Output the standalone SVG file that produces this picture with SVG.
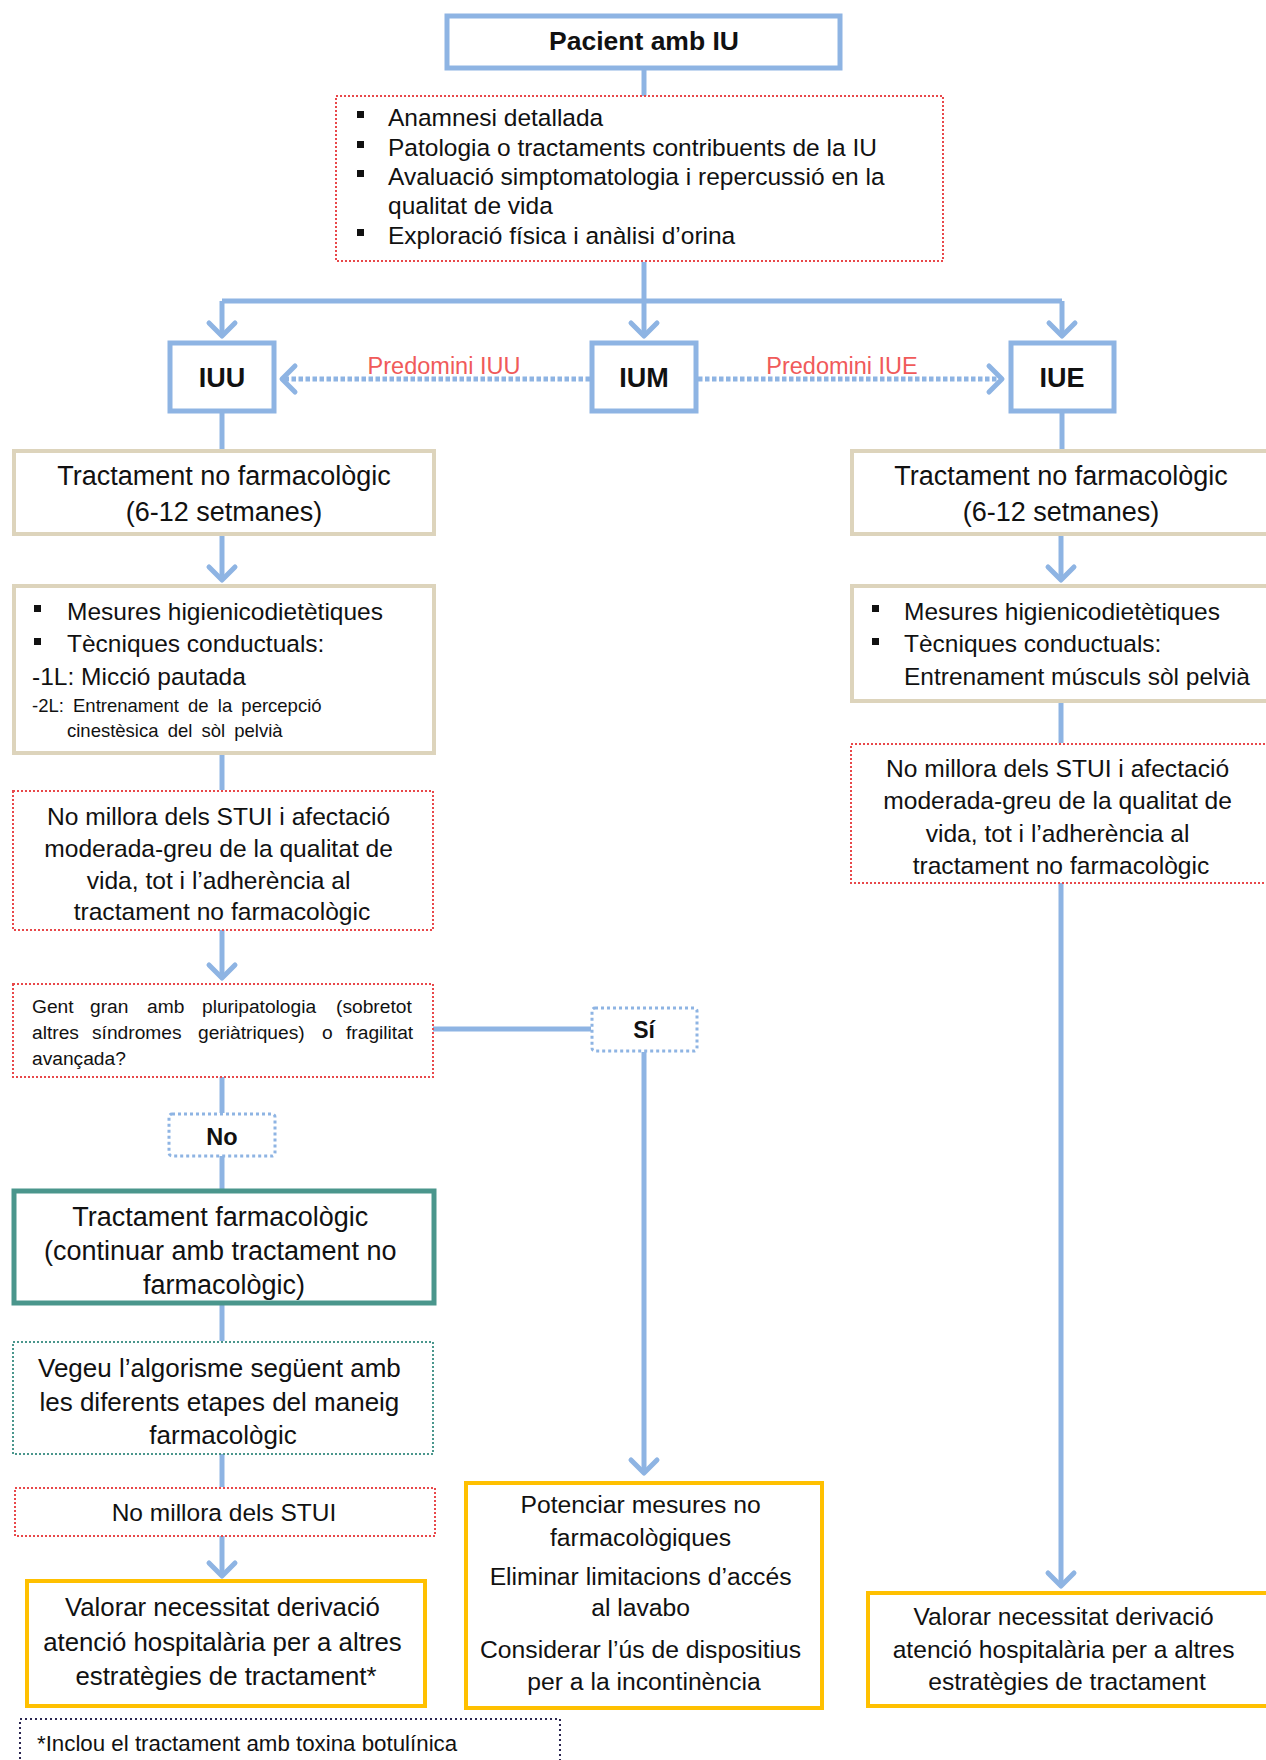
<svg xmlns="http://www.w3.org/2000/svg" width="1266" height="1760" viewBox="0 0 1266 1760">
<style>
text{font-family:"Liberation Sans",Arial,sans-serif;fill:#111}
.b{font-weight:bold}
.c{text-anchor:middle}
.blue{fill:#fff;stroke:#8EB4E3;stroke-width:5}
.beige{fill:#fff;stroke:#DDD4BC;stroke-width:4}
.reddot{fill:#fff;stroke:#E8484A;stroke-width:2;stroke-dasharray:2 2}
.teal{fill:#fff;stroke:#4A968C;stroke-width:5}
.tealdot{fill:#fff;stroke:#4A968C;stroke-width:2;stroke-dasharray:2 2}
.bluedot{fill:#fff;stroke:#8EB4E3;stroke-width:3;stroke-dasharray:3 3}
.yellow{fill:#fff;stroke:#FFC000;stroke-width:4}
.navydot{fill:#fff;stroke:#2A2550;stroke-width:2;stroke-dasharray:2 3}
.con{fill:none;stroke:#8EB4E3;stroke-width:5}
.dcon{fill:none;stroke:#8EB4E3;stroke-width:5;stroke-dasharray:4.5 2.5}
.red{fill:#F05A5A}
.bul{fill:#111}
</style>
<defs>
<marker id="ah" markerUnits="userSpaceOnUse" viewBox="-18 -18 24 36" markerWidth="24" markerHeight="36" refX="0" refY="0" orient="auto">
<path d="M-13,-13 L0,0 L-13,13" fill="none" stroke="#8EB4E3" stroke-width="5" stroke-linecap="round" stroke-linejoin="round"/>
</marker>
</defs>
<rect width="1266" height="1760" fill="#fff"/>

<g id="connectors">
<path class="con" d="M644,69 V96"/>
<path class="con" d="M222,301 H1062"/>
<path class="con" d="M644,262 V336" marker-end="url(#ah)"/>
<path class="con" d="M222,301 V336" marker-end="url(#ah)"/>
<path class="con" d="M1062,301 V336" marker-end="url(#ah)"/>
<path class="dcon" d="M590,379 H282" marker-end="url(#ah)"/>
<path class="dcon" d="M698,379 H1002" marker-end="url(#ah)"/>
<path class="con" d="M222,413 V450"/>
<path class="con" d="M1062,413 V450"/>
<path class="con" d="M222,535 V580" marker-end="url(#ah)"/>
<path class="con" d="M1061,535 V580" marker-end="url(#ah)"/>
<path class="con" d="M222,754 V790"/>
<path class="con" d="M1061,701 V743"/>
<path class="con" d="M222,930 V978" marker-end="url(#ah)"/>
<path class="con" d="M433,1029 H591"/>
<path class="con" d="M644,1052 V1473" marker-end="url(#ah)"/>
<path class="con" d="M222,1077 V1113"/>
<path class="con" d="M222,1156 V1190"/>
<path class="con" d="M222,1304 V1341"/>
<path class="con" d="M222,1454 V1487"/>
<path class="con" d="M222,1536 V1576" marker-end="url(#ah)"/>
<path class="con" d="M1061,883 V1586" marker-end="url(#ah)"/>
</g>

<g id="n-pacient">
<rect class="blue" x="447" y="16" width="393" height="52"/>
<text class="b c" x="644" y="50" font-size="26.5">Pacient amb IU</text>
</g>

<g id="n-avaluacio">
<rect class="reddot" x="336" y="96" width="607" height="165"/>
<rect class="bul" x="357" y="111" width="7" height="7"/>
<rect class="bul" x="357" y="141" width="7" height="7"/>
<rect class="bul" x="357" y="170" width="7" height="7"/>
<rect class="bul" x="357" y="229" width="7" height="7"/>
<text x="388" font-size="24.5">
<tspan x="388" y="126">Anamnesi detallada</tspan>
<tspan x="388" y="156">Patologia o tractaments contribuents de la IU</tspan>
<tspan x="388" y="185">Avaluació simptomatologia i repercussió en la</tspan>
<tspan x="388" y="214">qualitat de vida</tspan>
<tspan x="388" y="244">Exploració física i anàlisi d’orina</tspan>
</text>
</g>

<g id="n-iuu">
<rect class="blue" x="170" y="343" width="104" height="68"/>
<text class="b c" x="222" y="387" font-size="27">IUU</text>
</g>
<g id="n-ium">
<rect class="blue" x="592" y="343" width="104" height="68"/>
<text class="b c" x="644" y="387" font-size="27">IUM</text>
</g>
<g id="n-iue">
<rect class="blue" x="1011" y="343" width="103" height="68"/>
<text class="b c" x="1062" y="387" font-size="27">IUE</text>
</g>
<text class="red c" x="444" y="374" font-size="23.5">Predomini IUU</text>
<text class="red c" x="842" y="374" font-size="23.5">Predomini IUE</text>

<g id="n-tnf-l">
<rect class="beige" x="14" y="451" width="420" height="83"/>
<text class="c" x="224" y="485" font-size="27">Tractament no farmacològic</text>
<text class="c" x="224" y="521" font-size="27">(6-12 setmanes)</text>
</g>
<g id="n-tnf-r">
<rect class="beige" x="852" y="451" width="420" height="83"/>
<text class="c" x="1061" y="485" font-size="27">Tractament no farmacològic</text>
<text class="c" x="1061" y="521" font-size="27">(6-12 setmanes)</text>
</g>

<g id="n-mesures-l">
<rect class="beige" x="14" y="586" width="420" height="167" stroke-width="3"/>
<rect class="bul" x="34" y="605" width="7" height="7"/>
<rect class="bul" x="34" y="638" width="7" height="7"/>
<text x="67" y="620" font-size="24.5">Mesures higienicodietètiques</text>
<text x="67" y="652" font-size="24.5">Tècniques conductuals:</text>
<text x="32" y="685" font-size="24.5">-1L: Micció pautada</text>
<text x="32" y="712" font-size="18.5" word-spacing="4">-2L: Entrenament de la percepció</text>
<text x="67" y="737" font-size="18.5" word-spacing="4">cinestèsica del sòl pelvià</text>
</g>
<g id="n-mesures-r">
<rect class="beige" x="852" y="586" width="420" height="115" stroke-width="3"/>
<rect class="bul" x="872" y="605" width="7" height="7"/>
<rect class="bul" x="872" y="638" width="7" height="7"/>
<text x="904" y="620" font-size="24.5">Mesures higienicodietètiques</text>
<text x="904" y="652" font-size="24.5">Tècniques conductuals:</text>
<text x="904" y="685" font-size="24.5">Entrenament músculs sòl pelvià</text>
</g>

<g id="n-nomillora-l">
<rect class="reddot" x="13" y="791" width="420" height="139"/>
<text class="c" x="222" font-size="24.6">
<tspan x="222" y="825">No millora dels STUI i afectació</tspan>
<tspan x="222" y="857">moderada-greu de la qualitat de</tspan>
<tspan x="222" y="889">vida, tot i l’adherència al</tspan>
<tspan x="222" y="920">tractament no farmacològic</tspan>
</text>
</g>
<g id="n-nomillora-r">
<rect class="reddot" x="851" y="744" width="421" height="139"/>
<text class="c" x="1061" font-size="24.6">
<tspan x="1061" y="777">No millora dels STUI i afectació</tspan>
<tspan x="1061" y="809">moderada-greu de la qualitat de</tspan>
<tspan x="1061" y="842">vida, tot i l’adherència al</tspan>
<tspan x="1061" y="874">tractament no farmacològic</tspan>
</text>
</g>

<g id="n-gentgran">
<rect class="reddot" x="13" y="984" width="420" height="93"/>
<text font-size="19.2">
<tspan x="32" y="1013">Gent</tspan><tspan x="90" y="1013">gran</tspan><tspan x="147" y="1013">amb</tspan><tspan x="202" y="1013">pluripatologia</tspan><tspan x="336" y="1013">(sobretot</tspan>
<tspan x="32" y="1039">altres</tspan><tspan x="92" y="1039">síndromes</tspan><tspan x="198" y="1039">geriàtriques)</tspan><tspan x="322" y="1039">o</tspan><tspan x="346" y="1039">fragilitat</tspan>
<tspan x="32" y="1065">avançada?</tspan>
</text>
</g>

<g id="n-si">
<rect class="bluedot" x="592" y="1008" width="105" height="43" rx="3"/>
<text class="b c" x="644" y="1038" font-size="23">Sí</text>
</g>
<g id="n-no">
<rect class="bluedot" x="169" y="1114" width="106" height="42" rx="3"/>
<text class="b c" x="222" y="1145" font-size="23.5">No</text>
</g>

<g id="n-tf">
<rect class="teal" x="14" y="1191" width="420" height="112"/>
<text class="c" x="224" font-size="27">
<tspan x="224" y="1226">Tractament farmacològic</tspan>
<tspan x="224" y="1260">(continuar amb tractament no</tspan>
<tspan x="224" y="1294">farmacològic)</tspan>
</text>
</g>

<g id="n-vegeu">
<rect class="tealdot" x="13" y="1342" width="420" height="112"/>
<text class="c" x="223" font-size="26">
<tspan x="223" y="1377">Vegeu l’algorisme següent amb</tspan>
<tspan x="223" y="1411">les diferents etapes del maneig</tspan>
<tspan x="223" y="1444">farmacològic</tspan>
</text>
</g>

<g id="n-nomillora2">
<rect class="reddot" x="15" y="1488" width="420" height="48"/>
<text class="c" x="224" y="1521" font-size="24.5">No millora dels STUI</text>
</g>

<g id="n-valorar-l">
<rect class="yellow" x="27" y="1581" width="398" height="125"/>
<text class="c" x="226" font-size="25.8">
<tspan x="226" y="1616">Valorar necessitat derivació</tspan>
<tspan x="226" y="1651">atenció hospitalària per a altres</tspan>
<tspan x="226" y="1685">estratègies de tractament*</tspan>
</text>
</g>

<g id="n-potenciar">
<rect class="yellow" x="466" y="1483" width="356" height="225"/>
<text class="c" x="644" font-size="24.7">
<tspan x="644" y="1513">Potenciar mesures no</tspan>
<tspan x="644" y="1546">farmacològiques</tspan>
<tspan x="644" y="1585">Eliminar limitacions d’accés</tspan>
<tspan x="644" y="1616">al lavabo</tspan>
<tspan x="644" y="1658">Considerar l’ús de dispositius</tspan>
<tspan x="644" y="1690">per a la incontinència</tspan>
</text>
</g>

<g id="n-valorar-r">
<rect class="yellow" x="868" y="1593" width="402" height="113"/>
<text class="c" x="1067" font-size="24.6">
<tspan x="1067" y="1625">Valorar necessitat derivació</tspan>
<tspan x="1067" y="1658">atenció hospitalària per a altres</tspan>
<tspan x="1067" y="1690">estratègies de tractament</tspan>
</text>
</g>

<g id="n-nota">
<rect class="navydot" x="20" y="1719" width="540" height="50"/>
<text x="37" y="1751" font-size="22.3">*Inclou el tractament amb toxina botulínica</text>
</g>
</svg>
